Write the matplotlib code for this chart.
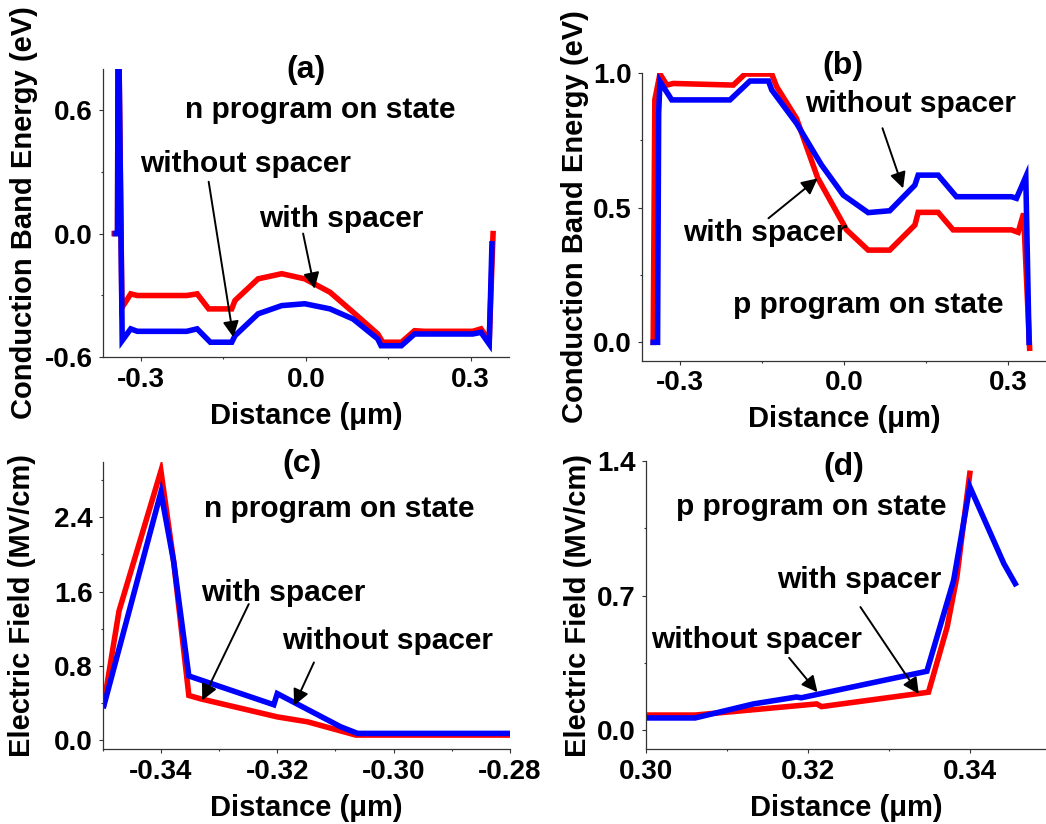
import matplotlib
matplotlib.use("Agg")
import matplotlib.pyplot as plt
from matplotlib.ticker import MultipleLocator, FormatStrFormatter

plt.rcParams["font.family"] = ["Liberation Sans", "DejaVu Sans"]
plt.rcParams["font.weight"] = "bold"
plt.rcParams["axes.labelweight"] = "bold"

RED = "#ff0000"
BLUE = "#0000ff"

# (a) conduction band, n program on state
A_X_WITH = [-0.349, -0.343, -0.342, -0.341, -0.335, -0.319, -0.307, -0.217, -0.198, -0.177,
            -0.135, -0.129, -0.087, -0.044, -0.002, 0.044, 0.086, 0.131, 0.140, 0.174,
            0.198, 0.216, 0.304, 0.319, 0.334, 0.341]
A_Y_WITH = [0.0, 0.0, 1.0, 1.0, -0.36, -0.293, -0.301, -0.301, -0.293, -0.366,
            -0.366, -0.325, -0.22, -0.195, -0.22, -0.285, -0.382, -0.488, -0.528, -0.528,
            -0.472, -0.475, -0.475, -0.463, -0.52, 0.0]
A_X_WITHOUT = [-0.347, -0.343, -0.342, -0.341, -0.3345, -0.319, -0.307, -0.217, -0.198, -0.174,
               -0.135, -0.129, -0.087, -0.044, -0.002, 0.044, 0.086, 0.131, 0.137, 0.174,
               0.198, 0.216, 0.304, 0.319, 0.334, 0.339]
A_Y_WITHOUT = [0.0, 0.0, 1.0, 1.0, -0.52, -0.463, -0.475, -0.475, -0.463, -0.528,
               -0.528, -0.496, -0.39, -0.35, -0.341, -0.366, -0.415, -0.512, -0.545, -0.545,
               -0.488, -0.488, -0.488, -0.48, -0.537, -0.05]

# (b) conduction band, p program on state
B_X_WITH = [-0.349, -0.346, -0.3366, -0.324, -0.312, -0.2024, -0.181, -0.132, -0.123, -0.0866,
            -0.048, 0.005, 0.0445, 0.084, 0.130, 0.136, 0.1726, 0.200, 0.3067, 0.319,
            0.329, 0.340]
B_Y_WITH = [0.0, 0.90, 0.995, 0.954, 0.96, 0.954, 0.995, 0.995, 0.948, 0.83,
            0.61, 0.417, 0.342, 0.342, 0.435, 0.482, 0.482, 0.417, 0.417, 0.408,
            0.478, -0.022]
B_X_WITHOUT = [-0.349, -0.341, -0.339, -0.3366, -0.315, -0.2085, -0.172, -0.138, -0.132, -0.0866,
               -0.041, -0.001, 0.0445, 0.084, 0.130, 0.136, 0.1726, 0.206, 0.3067, 0.316,
               0.333, 0.339]
B_Y_WITHOUT = [0.0, 0.0, 0.85, 0.967, 0.899, 0.899, 0.969, 0.969, 0.936, 0.812,
               0.658, 0.546, 0.481, 0.488, 0.583, 0.620, 0.620, 0.540, 0.540, 0.534,
               0.614, 0.0]

# (c) electric field, n program on state
C_X_WITH = [-0.3498, -0.3472, -0.3400, -0.3378, -0.3352, -0.3332, -0.3200, -0.3148, -0.3065, -0.2800]
C_Y_WITH = [0.39, 1.39, 2.90, 1.92, 0.48, 0.444, 0.249, 0.196, 0.053, 0.053]
C_X_WITHOUT = [-0.3498, -0.3400, -0.3378, -0.3352, -0.3206, -0.3200, -0.3091, -0.3062, -0.2800]
C_Y_WITHOUT = [0.37, 2.67, 1.92, 0.69, 0.38, 0.50, 0.142, 0.071, 0.071]

# (d) electric field, p program on state
D_X_WITH = [0.300, 0.3061, 0.3211, 0.3217, 0.3349, 0.3372, 0.3384, 0.3400]
D_Y_WITH = [0.078, 0.078, 0.136, 0.122, 0.197, 0.536, 0.797, 1.336]
D_X_WITHOUT = [0.300, 0.3061, 0.3133, 0.3186, 0.3192, 0.3347, 0.3380, 0.3400, 0.3442, 0.3456]
D_Y_WITHOUT = [0.063, 0.063, 0.136, 0.172, 0.168, 0.306, 0.779, 1.266, 0.866, 0.762]


def style_axes(ax, xlim, ylim, xmaj, xmin, ymaj, ymin, xfmt, ylabel, ylab_x):
    ax.set_xlim(*xlim)
    ax.set_ylim(*ylim)
    ax.xaxis.set_major_locator(MultipleLocator(xmaj))
    ax.xaxis.set_minor_locator(MultipleLocator(xmin))
    ax.yaxis.set_major_locator(MultipleLocator(ymaj))
    ax.yaxis.set_minor_locator(MultipleLocator(ymin))
    ax.xaxis.set_major_formatter(FormatStrFormatter(xfmt))
    ax.yaxis.set_major_formatter(FormatStrFormatter("%.1f"))
    for s in ("top", "right"):
        ax.spines[s].set_visible(False)
    for s in ("left", "bottom"):
        ax.spines[s].set_color("#333333")
        ax.spines[s].set_linewidth(0.9)
    ax.tick_params(which="major", direction="out", length=3, width=0.8,
                   labelsize=20, pad=4, color="#333333")
    ax.tick_params(which="minor", direction="out", length=1.6, width=0.8, color="#333333")
    ax.set_xlabel("Distance (\u03bcm)", fontsize=21)
    ax.set_ylabel(ylabel, fontsize=21)
    ax.xaxis.set_label_coords(0.5, -0.155)
    ax.yaxis.set_label_coords(ylab_x, 0.5)


def pointer(ax, label, text_xy, start, tip):
    ax.text(*text_xy, label, fontsize=21.5, ha="center", va="center")
    ax.annotate("", xy=tip, xytext=start,
                arrowprops=dict(arrowstyle="-|>", color="black", lw=1.4,
                                mutation_scale=24, shrinkA=0, shrinkB=0))


fig = plt.figure(figsize=(10.46, 8.24), dpi=100)
ax_a = fig.add_axes([0.0982, 0.5667, 0.3884, 0.3496])
ax_b = fig.add_axes([0.6135, 0.5623, 0.3865, 0.3495])
ax_c = fig.add_axes([0.0982, 0.0907, 0.3894, 0.3490])
ax_d = fig.add_axes([0.6173, 0.0907, 0.3827, 0.3498])

LW = 4.0
for ax, xr, yr, xb, yb in [
    (ax_a, A_X_WITH, A_Y_WITH, A_X_WITHOUT, A_Y_WITHOUT),
    (ax_b, B_X_WITH, B_Y_WITH, B_X_WITHOUT, B_Y_WITHOUT),
    (ax_c, C_X_WITH, C_Y_WITH, C_X_WITHOUT, C_Y_WITHOUT),
    (ax_d, D_X_WITH, D_Y_WITH, D_X_WITHOUT, D_Y_WITHOUT),
]:
    ax.plot(xr, yr, color=RED, lw=LW, solid_joinstyle="miter")
    ax.plot(xb, yb, color=BLUE, lw=LW, solid_joinstyle="miter")

style_axes(ax_a, (-0.37, 0.37), (-0.6, 0.8), 0.3, 0.15, 0.6, 0.3, "%.1f",
           "Conduction Band Energy (eV)", -0.159)
style_axes(ax_b, (-0.37, 0.37), (-0.068, 1.0), 0.3, 0.15, 0.5, 0.25, "%.1f",
           "Conduction Band Energy (eV)", -0.131)
style_axes(ax_c, (-0.35, -0.28), (-0.1, 3.0), 0.02, 0.01, 0.8, 0.4, "%.2f",
           "Electric Field (MV/cm)", -0.163)
style_axes(ax_d, (0.30, 0.3494), (-0.1, 1.4), 0.02, 0.01, 0.7, 0.35, "%.2f",
           "Electric Field (MV/cm)", -0.134)

# panel letters
for ax, letter, px, py in [(ax_a, "(a)", 0.50, 0.997), (ax_b, "(b)", 0.498, 1.023),
                           (ax_c, "(c)", 0.489, 0.992), (ax_d, "(d)", 0.495, 0.979)]:
    ax.text(px, py, letter, transform=ax.transAxes, fontsize=23, ha="center", va="center")

ax_a.text(0.027, 0.60, "n program on state", fontsize=21.5, ha="center", va="center")
pointer(ax_a, "without spacer", (-0.11, 0.338), (-0.177, 0.252), (-0.132, -0.504))
pointer(ax_a, "with spacer", (0.064, 0.07), (-0.005, 0.0), (0.016, -0.268))

ax_b.text(0.0445, 0.138, "p program on state", fontsize=21.5, ha="center", va="center")
pointer(ax_b, "without spacer", (0.122, 0.883), (0.0707, 0.794), (0.1085, 0.571))
pointer(ax_b, "with spacer", (-0.1445, 0.404), (-0.138, 0.46), (-0.048, 0.608))

ax_c.text(-0.3094, 2.489, "n program on state", fontsize=21.5, ha="center", va="center")
pointer(ax_c, "with spacer", (-0.3189, 1.582), (-0.3249, 1.465), (-0.3329, 0.427))
pointer(ax_c, "without spacer", (-0.301, 1.067), (-0.3137, 0.836), (-0.3171, 0.373))

ax_d.text(0.3204, 1.162, "p program on state", fontsize=21.5, ha="center", va="center")
pointer(ax_d, "with spacer", (0.3263, 0.783), (0.3265, 0.64), (0.3337, 0.188))
pointer(ax_d, "without spacer", (0.3137, 0.47), (0.3177, 0.376), (0.3212, 0.197))

fig.savefig("out.png", dpi=100)
